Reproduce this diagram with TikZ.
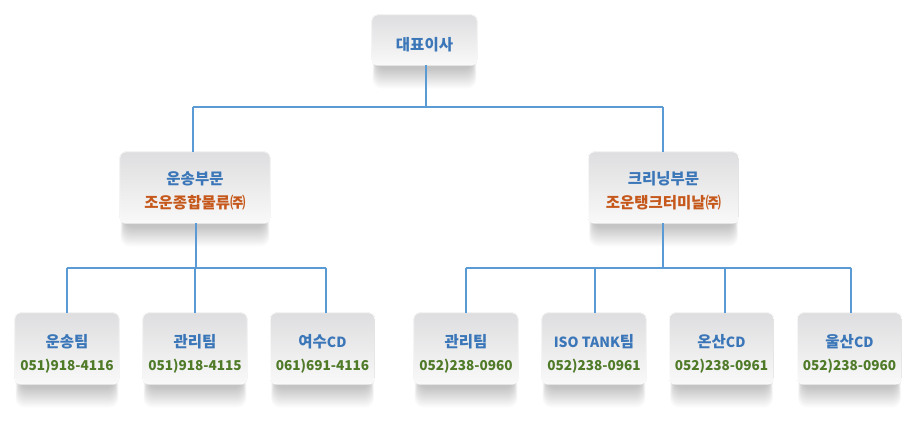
\documentclass[tikz,border=0pt]{standalone}
\usepackage{fontspec}
\setmainfont{Noto Sans CJK KR}
\usetikzlibrary{calc}
\definecolor{lineblue}{HTML}{5B9BD5}
\definecolor{txtblue}{HTML}{3A76B8}
\definecolor{txtorange}{HTML}{C5581A}
\definecolor{txtgreen}{HTML}{4F7A28}
\definecolor{boxtop}{HTML}{DEDEE0}
\definecolor{boxbot}{HTML}{F9F9F9}
\tikzset{
  orgbox/.style={inner sep=0pt, draw=none, fill=none},
  ceobox/.style={orgbox, minimum width=105pt, minimum height=50pt},
  midbox/.style={orgbox, minimum width=150pt, minimum height=71pt},
  teambox/.style={orgbox, minimum width=104pt, minimum height=71pt},
  boxface/.style={rounded corners=6pt, top color=boxtop, bottom color=boxbot},
  boxrim/.style={draw=white, line width=0.8pt, rounded corners=6pt},
  shadowlayer/.style={fill=black, fill opacity=0.021, rounded corners=9pt},
  conn/.style={draw=lineblue, line width=2.7pt},
  ttl/.style={inner sep=0pt, text=txtblue, font=\fontsize{15.5}{18}\selectfont\bfseries},
  sub/.style={inner sep=0pt, text=txtorange, font=\fontsize{15.5}{18}\selectfont\bfseries},
  tel/.style={inner sep=0pt, text=txtgreen, font=\fontsize{13.6}{16}\selectfont\bfseries},
}
\newcommand{\lat}[1]{{\fontsize{14}{16}\selectfont #1}}
\newcommand{\boxshadow}[1]{%
  \foreach \k in {1,...,12}{%
    \fill[shadowlayer] ($(#1.north west)+(\k*0.35+0.5,10)$) rectangle ($(#1.south east)+(-\k*0.35-0.5,25-\k*1.75)$);
  }}
\begin{document}
\begin{tikzpicture}[x=1pt,y=-1pt]
\useasboundingbox (0,0) rectangle (912,421);
\fill[white] (0,0) rectangle (912,421);
% bus coordinates
\coordinate (busTop) at (426,107);
\coordinate (busTopL) at (193,107);
\coordinate (busTopR) at (663,107);
\coordinate (busL) at (196,268);
\coordinate (busR) at (663,268);
% box frames (named, invisible; faces drawn below)
\node[ceobox] (ceo) at (424.5,40) {};
\node[midbox] (midL) at (195,187.5) {};
\node[midbox] (midR) at (663.5,187.5) {};
\node[teambox] (t1) at (67,348.5) {};
\node[teambox] (t2) at (195,348.5) {};
\node[teambox] (t3) at (322.5,348.5) {};
\node[teambox] (t4) at (466,348.5) {};
\node[teambox] (t5) at (594,348.5) {};
\node[teambox] (t6) at (721.5,348.5) {};
\node[teambox] (t7) at (849.5,348.5) {};
% soft shadows
\boxshadow{ceo}\boxshadow{midL}\boxshadow{midR}
\boxshadow{t1}\boxshadow{t2}\boxshadow{t3}\boxshadow{t4}\boxshadow{t5}\boxshadow{t6}\boxshadow{t7}
% box faces
\foreach \n in {ceo,midL,midR,t1,t2,t3,t4,t5,t6,t7}{
  \fill[boxface] (\n.north west) rectangle (\n.south east);
  \draw[boxrim] (\n.north west) rectangle (\n.south east);
}
% connectors
\draw[conn] (ceo.south -| busTop) -- (busTop);
\draw[conn] (busTopL) -- (busTopR);
\draw[conn] (busTopL) -- (busTopL |- midL.north);
\draw[conn] (busTopR) -- (busTopR |- midR.north);
\draw[conn] (busL |- midL.south) -- (busL);
\draw[conn] (busR |- midR.south) -- (busR);
\draw[conn] (t1.north |- busL) -- ([xshift=3.5pt]t3.north |- busL);
\draw[conn] (t4.north |- busR) -- ([xshift=1.5pt]t7.north |- busR);
\draw[conn] (t1.north |- busL) -- (t1.north);
\draw[conn] (t2.north |- busL) -- (t2.north);
\draw[conn] ([xshift=3.5pt]t3.north |- busL) -- ([xshift=3.5pt]t3.north);
\draw[conn] (t4.north |- busR) -- (t4.north);
\draw[conn] ([xshift=1pt]t5.north |- busR) -- ([xshift=1pt]t5.north);
\draw[conn] ([xshift=3.5pt]t6.north |- busR) -- ([xshift=3.5pt]t6.north);
\draw[conn] ([xshift=1.5pt]t7.north |- busR) -- ([xshift=1.5pt]t7.north);
% texts
\node[ttl] (ceoT) at ([yshift=-4.5pt]ceo.center) {대표이사};
\node[ttl] (midLT) at ([yshift=9pt]midL.center) {운송부문};
\node[sub] (midLS) at ([yshift=-15pt]midL.center) {조운종합물류㈜};
\node[ttl] (midRT) at ([yshift=9pt]midR.center) {크리닝부문};
\node[sub] (midRS) at ([yshift=-15pt]midR.center) {조운탱크터미날㈜};
\node[ttl] (t1T) at ([yshift=7pt]t1.center) {운송팀};
\node[tel] (t1P) at ([yshift=-17.5pt]t1.center) {051)918-4116};
\node[ttl] (t2T) at ([yshift=7pt]t2.center) {관리팀};
\node[tel] (t2P) at ([yshift=-17.5pt]t2.center) {051)918-4115};
\node[ttl] (t3T) at ([yshift=7pt]t3.center) {여수\lat{CD}};
\node[tel] (t3P) at ([yshift=-17.5pt]t3.center) {061)691-4116};
\node[ttl] (t4T) at ([yshift=7pt]t4.center) {관리팀};
\node[tel] (t4P) at ([yshift=-17.5pt]t4.center) {052)238-0960};
\node[ttl] (t5T) at ([yshift=7pt]t5.center) {\lat{ISO TANK}팀};
\node[tel] (t5P) at ([yshift=-17.5pt]t5.center) {052)238-0961};
\node[ttl] (t6T) at ([yshift=7pt]t6.center) {온산\lat{CD}};
\node[tel] (t6P) at ([yshift=-17.5pt]t6.center) {052)238-0961};
\node[ttl] (t7T) at ([yshift=7pt]t7.center) {울산\lat{CD}};
\node[tel] (t7P) at ([yshift=-17.5pt]t7.center) {052)238-0960};
\end{tikzpicture}
\end{document}
